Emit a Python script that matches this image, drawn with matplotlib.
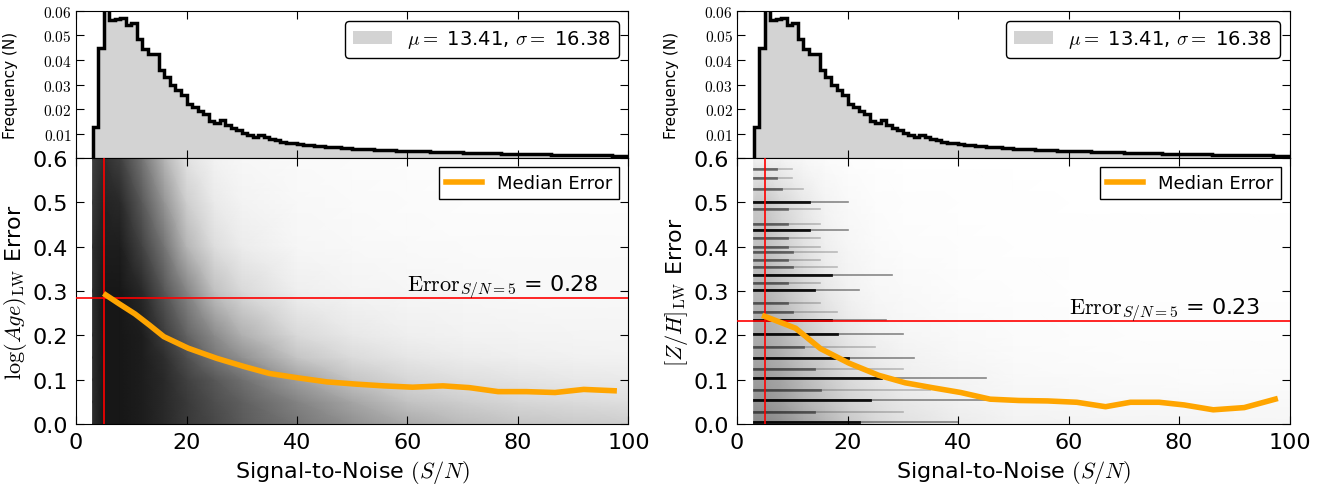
import matplotlib
matplotlib.use('Agg')
import matplotlib.pyplot as plt
import numpy as np

plt.rcParams['mathtext.fontset'] = 'cm'
plt.rcParams['font.family'] = 'DejaVu Sans'

## data ##
# S/N histogram (normalised), bins of width 1 from S/N = 3
hist_edges = np.arange(3, 101, 1)
hist_freq = [0.0127, 0.0449, 0.0620, 0.0562, 0.0566, 0.0571, 0.0541, 0.0552, 0.0484, 0.0446,
             0.0426, 0.0426, 0.0360, 0.0330, 0.0300, 0.0276, 0.0256, 0.0222, 0.0208, 0.0192,
             0.0181, 0.0150, 0.0143, 0.0154, 0.0133, 0.0124, 0.0116, 0.0102, 0.0095, 0.0086,
             0.0093, 0.0086, 0.0079, 0.0072, 0.0065, 0.0062, 0.0060, 0.0058, 0.0055, 0.0053,
             0.0050, 0.0049, 0.0047, 0.0045, 0.0043, 0.0041, 0.0040, 0.0038, 0.0037, 0.0036,
             0.0035, 0.0034, 0.0033, 0.0032, 0.0031, 0.0030, 0.0030, 0.0029, 0.0028, 0.0027,
             0.0027, 0.0026, 0.0025, 0.0025, 0.0024, 0.0023, 0.0023, 0.0022, 0.0021, 0.0021,
             0.0020, 0.0020, 0.0019, 0.0019, 0.0018, 0.0018, 0.0017, 0.0017, 0.0016, 0.0016,
             0.0015, 0.0015, 0.0015, 0.0014, 0.0014, 0.0013, 0.0013, 0.0013, 0.0012, 0.0012,
             0.0012, 0.0011, 0.0011, 0.0011, 0.0010, 0.0010, 0.0010]
hist_label = r'$\mu=$ 13.41, $\sigma=$ 16.38'

# point density of the error scatter (0 = empty, 1 = solid black), read by eye
dens_x = [3, 5, 8, 12, 16, 20, 25, 30, 40, 50, 60, 70, 80, 90, 100]
dens_y = [0.0, 0.05, 0.1, 0.15, 0.2, 0.3, 0.4, 0.5, 0.6]
age_dens = [
    [0.85, 0.92, 0.92, 0.90, 0.86, 0.82, 0.78, 0.72, 0.62, 0.52, 0.44, 0.38, 0.34, 0.32, 0.30],
    [0.85, 0.92, 0.92, 0.90, 0.86, 0.82, 0.76, 0.70, 0.57, 0.45, 0.35, 0.30, 0.26, 0.24, 0.22],
    [0.85, 0.92, 0.92, 0.90, 0.86, 0.80, 0.73, 0.64, 0.47, 0.34, 0.26, 0.22, 0.19, 0.17, 0.16],
    [0.85, 0.92, 0.92, 0.90, 0.85, 0.76, 0.62, 0.52, 0.34, 0.24, 0.18, 0.15, 0.13, 0.12, 0.11],
    [0.85, 0.92, 0.92, 0.90, 0.81, 0.69, 0.54, 0.42, 0.25, 0.17, 0.13, 0.11, 0.10, 0.09, 0.09],
    [0.85, 0.92, 0.92, 0.86, 0.73, 0.56, 0.36, 0.25, 0.13, 0.09, 0.08, 0.07, 0.06, 0.06, 0.06],
    [0.85, 0.90, 0.90, 0.79, 0.62, 0.40, 0.23, 0.15, 0.08, 0.06, 0.05, 0.045, 0.04, 0.04, 0.04],
    [0.82, 0.88, 0.86, 0.72, 0.50, 0.30, 0.16, 0.10, 0.06, 0.045, 0.035, 0.03, 0.03, 0.03, 0.03],
    [0.80, 0.85, 0.80, 0.62, 0.40, 0.20, 0.11, 0.07, 0.045, 0.035, 0.03, 0.025, 0.025, 0.025, 0.025],
]
zh_dens = [
    [0.55, 0.55, 0.52, 0.46, 0.40, 0.33, 0.26, 0.21, 0.15, 0.11, 0.10, 0.09, 0.09, 0.08, 0.08],
    [0.50, 0.50, 0.47, 0.41, 0.35, 0.28, 0.22, 0.17, 0.12, 0.08, 0.07, 0.06, 0.06, 0.06, 0.06],
    [0.48, 0.48, 0.45, 0.39, 0.32, 0.25, 0.19, 0.14, 0.09, 0.06, 0.05, 0.04, 0.035, 0.035, 0.035],
    [0.45, 0.45, 0.42, 0.35, 0.29, 0.21, 0.15, 0.11, 0.07, 0.045, 0.035, 0.03, 0.025, 0.025, 0.025],
    [0.43, 0.43, 0.40, 0.32, 0.24, 0.17, 0.11, 0.08, 0.05, 0.035, 0.025, 0.02, 0.02, 0.02, 0.02],
    [0.40, 0.40, 0.35, 0.26, 0.17, 0.11, 0.07, 0.05, 0.03, 0.02, 0.015, 0.012, 0.012, 0.012, 0.012],
    [0.36, 0.36, 0.30, 0.21, 0.13, 0.08, 0.045, 0.03, 0.018, 0.012, 0.01, 0.008, 0.008, 0.008, 0.008],
    [0.33, 0.33, 0.26, 0.17, 0.09, 0.05, 0.03, 0.018, 0.012, 0.008, 0.006, 0.005, 0.005, 0.005, 0.005],
    [0.12, 0.12, 0.10, 0.06, 0.035, 0.018, 0.01, 0.005, 0.003, 0.0, 0.0, 0.0, 0.0, 0.0, 0.0],
]

# [Z/H] errors pile up on discrete levels: horizontal streaks (level, S/N reach, darkness)
streak_y = [0.005, 0.028, 0.053, 0.077, 0.103, 0.125, 0.149, 0.174, 0.202, 0.234, 0.253, 0.272,
            0.302, 0.317, 0.336, 0.354, 0.371, 0.387, 0.400, 0.420, 0.437, 0.452, 0.484, 0.501,
            0.530, 0.555, 0.575]
streak_end = [40, 30, 45, 35, 45, 30, 32, 25, 30, 27, 18, 15,
              22, 15, 28, 18, 15, 18, 15, 15, 20, 15, 15, 20,
              12, 10, 10]
streak_core = [22, 14, 24, 15, 26, 14, 20, 12, 18, 17, 10, 9,
               14, 9, 17, 10, 9, 10, 9, 9, 13, 9, 9, 13,
               8, 7, 7]
streak_alpha = [0.9, 0.45, 0.9, 0.45, 0.9, 0.45, 0.9, 0.45, 0.9, 0.9, 0.45, 0.45,
                0.9, 0.45, 0.9, 0.45, 0.45, 0.45, 0.45, 0.45, 0.9, 0.45, 0.45, 0.9,
                0.45, 0.45, 0.45]

# running median error vs S/N
age_med_sn = [5.4, 7.7, 10.7, 13.3, 15.9, 20.3, 25.5, 30.6, 35.0, 40.2, 45.4, 50.6,
              55.7, 60.9, 66.4, 71.2, 76.4, 81.5, 86.7, 91.9, 97.4]
age_med_err = [0.291, 0.272, 0.248, 0.223, 0.197, 0.171, 0.148, 0.129, 0.114, 0.104, 0.095, 0.090,
               0.086, 0.083, 0.086, 0.082, 0.073, 0.073, 0.071, 0.078, 0.075]
zh_med_sn = [5.0, 10.6, 15.1, 20.3, 25.6, 30.4, 35.3, 40.5, 45.8, 51.0, 56.2, 61.5,
             66.7, 71.2, 76.4, 80.9, 86.2, 91.8, 97.4]
zh_med_err = [0.243, 0.216, 0.170, 0.137, 0.110, 0.093, 0.082, 0.071, 0.056, 0.053, 0.052, 0.049,
              0.039, 0.049, 0.049, 0.043, 0.032, 0.037, 0.056]

sn_cut = 5
age_err5 = 0.285
zh_err5 = 0.232

panels = [
    dict(x0=0.0572, dens=age_dens, med_sn=age_med_sn, med_err=age_med_err, err5=age_err5,
         ylabel=r'$\log(Age)_{\rm LW}$ Error', streaks=False),
    dict(x0=0.5546, dens=zh_dens, med_sn=zh_med_sn, med_err=zh_med_err, err5=zh_err5,
         ylabel=r'$[Z/H]_{\rm LW}$ Error', streaks=True),
]

fig = plt.figure(figsize=(13.29, 4.89), dpi=100)
width = 0.4157

for p in panels:
    ax_h = fig.add_axes([p['x0'], 0.6748, width, 0.3007])
    ax = fig.add_axes([p['x0'], 0.1309, width, 0.5439])

    # histogram
    ax_h.stairs(hist_freq, hist_edges, fill=True, facecolor='lightgray', edgecolor='darkgray',
                label=hist_label)
    ax_h.stairs(hist_freq, hist_edges, baseline=0, color='k', lw=2.5)
    ax_h.set_xlim(0, 100)
    ax_h.set_ylim(0, 0.06)
    ax_h.set_xticks(np.arange(0, 101, 20))
    ax_h.set_xticklabels([])
    ax_h.set_yticks([0.01, 0.02, 0.03, 0.04, 0.05, 0.06])
    ax_h.set_yticklabels([f'${v:.2f}$' for v in ax_h.get_yticks()], fontsize=11)
    ax_h.set_ylabel('Frequency (N)', fontsize=11)
    ax_h.yaxis.set_label_coords(-0.105, 0.5)
    ax_h.tick_params(direction='in', top=True, right=True, length=6, pad=3)
    ax_h.legend(loc='upper right', fontsize=14, fancybox=True, edgecolor='k', framealpha=1,
                handlelength=2.0, borderpad=0.4)

    # error scatter density
    ax.pcolormesh(dens_x, dens_y, np.array(p['dens']), shading='gouraud', cmap='Greys',
                  vmin=0, vmax=1, zorder=1, rasterized=True)
    if p['streaks']:
        for yy, xe, xc, a in zip(streak_y, streak_end, streak_core, streak_alpha):
            ax.plot([3, xe], [yy, yy], color='k', lw=1.2, alpha=a * 0.5, zorder=2)
            ax.plot([3, xc], [yy, yy], color='k', lw=2.0, alpha=a, zorder=2)

    ax.axvline(sn_cut, color='red', lw=1.2, zorder=3)
    ax.axhline(p['err5'], color='red', lw=1.2, zorder=3)
    ax.plot(p['med_sn'], p['med_err'], color='orange', lw=4, label='Median Error', zorder=4)
    ax.text(60, p['err5'] + 0.017, r'$\mathrm{Error}_{S/N=5}$' + f' = {p["err5"]:.2f}',
            fontsize=16, va='baseline', zorder=5)

    ax.set_xlim(0, 100)
    ax.set_ylim(0, 0.6)
    ax.set_xticks(np.arange(0, 101, 20))
    ax.set_yticks(np.arange(0, 0.61, 0.1))
    ax.set_yticklabels([f'{v:.1f}' for v in ax.get_yticks()])
    ax.tick_params(direction='in', top=True, right=True, length=6, labelsize=16, pad=6)
    ax.set_xlabel(r'Signal-to-Noise $(S/N)$', fontsize=16)
    ax.set_ylabel(p['ylabel'], fontsize=16)
    ax.yaxis.set_label_coords(-0.085, 0.5)
    ax.legend(loc='upper right', fontsize=13, fancybox=False, edgecolor='k', framealpha=1,
              handlelength=2.0)

fig.savefig('out.png', dpi=100)
